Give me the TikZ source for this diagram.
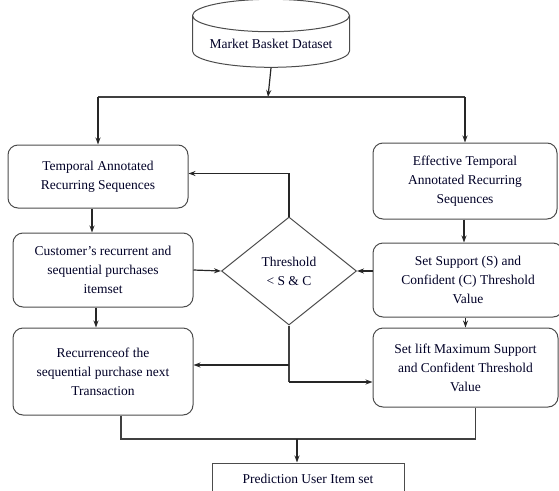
\documentclass[tikz,border=0pt]{standalone}
\usepackage{fontspec}
\setmainfont{Liberation Serif}
\usetikzlibrary{shapes.geometric,arrows.meta}

\begin{document}
\begin{tikzpicture}[x=1pt,y=1pt,
    every node/.style={font=\fontsize{13.5}{19}\selectfont, text=black!85!blue},
    stepbox/.style={draw=black!70, line width=1pt, rounded corners=10pt, align=center, inner sep=2pt},
    arr/.style={-{Stealth[length=7pt,width=5pt]}, line width=1.2pt, black!85},
    ln/.style={line width=1.2pt, black!75}]
        \useasboundingbox (0,0) rectangle (559,-490);
        % data source
        \node[draw=black!70, line width=1pt, cylinder, shape border rotate=90, aspect=0.25,
              minimum width=157pt, minimum height=68pt] (data) at (271,-44) {Market Basket Dataset};
        % left column
        \node[stepbox, minimum width=180pt, minimum height=63pt] (tars) at (98,-176.5)
              {Temporal Annotated\\Recurring Sequences};
        \node[stepbox, minimum width=180pt, minimum height=74pt] (cust) at (103,-270)
              {Customer’s recurrent and\\sequential purchases\\itemset};
        \node[stepbox, minimum width=180pt, minimum height=87pt] (recur) at (103,-371.5)
              {Recurrenceof the\\sequential purchase next\\Transaction};
        % right column
        \node[stepbox, minimum width=184pt, minimum height=76pt] (eff) at (465,-181)
              {Effective Temporal\\Annotated Recurring\\Sequences};
        \node[stepbox, minimum width=190pt, minimum height=74pt] (supp) at (468,-280)
              {Set Support (S) and\\Confident (C) Threshold\\Value};
        \node[stepbox, minimum width=185pt, minimum height=79pt] (lift) at (465.5,-367.5)
              {Set lift Maximum Support\\and Confident Threshold\\Value};
        % decision and result
        \node[draw=black!70, line width=1pt, diamond, aspect=1.25, minimum width=135pt,
              minimum height=108pt, inner sep=0pt, align=center] (thr) at (289,-271)
              {Threshold\\< S \& C};
        \node[draw=black!70, line width=1pt, minimum width=192pt, minimum height=32pt] (pred) at (308,-479)
              {Prediction User Item set};
        \coordinate (split) at (268,-97);
        \coordinate (j1) at (289,-365);
        \coordinate (j2) at (289,-382);
        \coordinate (m) at (297,-439);

        \draw[arr] (data.south) -- (split);
        \draw[ln] (98,-97) -- (465,-97);
        \draw[arr] (98,-97) -- (tars.north);
        \draw[arr] (465,-97) -- (eff.north);
        \draw[arr] ([xshift=-6pt]tars.south) -- ([xshift=-6pt]tars.south |- cust.north);
        \draw[arr] ([xshift=-7pt]cust.south) -- ([xshift=-7pt]cust.south |- recur.north);
        \draw[arr] (cust.east) -- (thr.west);
        \draw[arr] (supp.west |- thr.east) -- (thr.east);
        \draw[arr] (thr.north) |- ([yshift=3pt]tars.east);
        \draw[arr] ([xshift=-1pt]eff.south) -- ([xshift=-1pt]eff.south |- supp.north);
        \draw[arr] (supp.south -| lift.north) -- (lift.north);
        \draw[ln] (thr.south) -- (j2);
        \draw[arr] (j2) -- (j2 -| lift.west);
        \draw[arr] (j1) -- (j1 -| recur.east);
        \draw[ln] ([xshift=18pt]recur.south) |- (m);
        \draw[ln] ([xshift=10pt]lift.south) |- (m);
        \draw[arr] (m) -- (m |- pred.north);
      \end{tikzpicture}
\end{document}
